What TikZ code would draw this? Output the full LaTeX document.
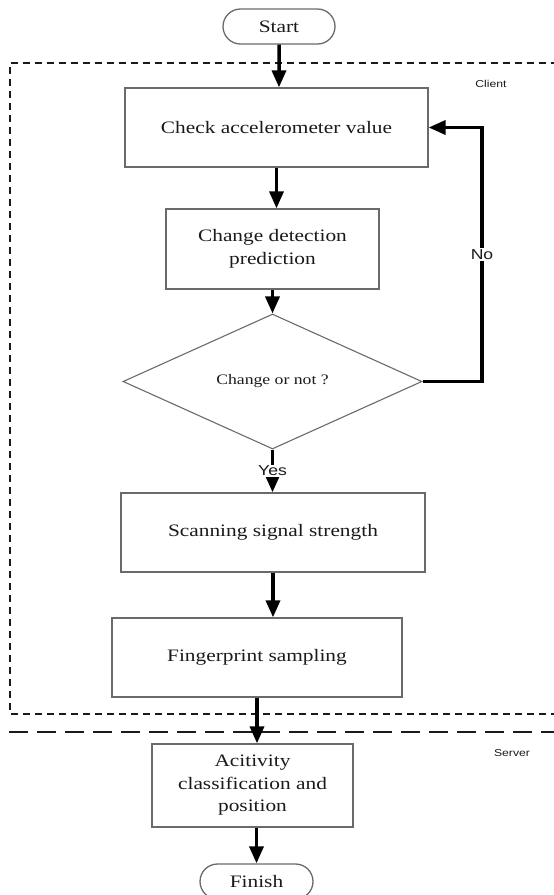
\documentclass[tikz,border=0pt]{standalone}
\usepackage{fontspec}
\setmainfont{Liberation Serif}[FakeStretch=1.22]
\newfontfamily\labelfont{Liberation Sans}[FakeStretch=1.22]
\usetikzlibrary{arrows.meta,shapes.geometric,shapes.misc}
\definecolor{boxgray}{HTML}{6A6A6A}
\definecolor{inkc}{HTML}{1A1A1A}
\tikzset{
  stepbox/.style={draw=boxgray, line width=1.3pt, rectangle, align=center, inner sep=0pt,
    text=inkc, font=\fontsize{17.5}{22.5}\selectfont},
  term/.style={draw=boxgray, line width=1.3pt, rounded rectangle, inner sep=0pt,
    text=inkc, font=\fontsize{17.5}{21}\selectfont},
  decision/.style={draw=boxgray, line width=1.1pt, diamond, inner sep=0pt, aspect=2.21,
    text=inkc, font=\fontsize{14.5}{18}\selectfont},
  arr/.style={draw=black, line width=3.5pt, -{Triangle[length=17pt,width=14pt]}},
  flowlabel/.style={fill=white, inner sep=1pt, text=inkc, font=\labelfont\fontsize{14.4}{16}\selectfont},
  zonelabel/.style={inner sep=0pt, text=inkc, font=\labelfont\fontsize{10}{12}\selectfont},
  clientdash/.style={draw=inkc, line width=1.1pt, dash pattern=on 7pt off 5pt},
  serverdash/.style={draw=inkc, line width=1.1pt, dash pattern=on 19pt off 9pt},
}
\begin{document}
\begin{tikzpicture}[x=1pt,y=-1pt]
\useasboundingbox (0,0) rectangle (554,895);
\clip (0,0) rectangle (554,895);
% zones
\draw[clientdash] (570,63) -- (10,63) -- (10,714) -- (570,714);
\draw[serverdash] (9,732) -- (560,732);
\node[zonelabel] (client) at (491,84) {Client};
\node[zonelabel] (server) at (512,753) {Server};
% nodes
\node[term, minimum width=112pt, minimum height=35pt] (start) at (279,26.5) {Start};
\node[stepbox, minimum width=303pt, minimum height=79pt] (check) at (276.5,127.5) {Check accelerometer value};
\node[stepbox, minimum width=213pt, minimum height=80pt] (cdp) at (272.5,249) {Change detection\\prediction};
\node[decision, minimum width=299pt, minimum height=135pt] (dia) at (272.5,381.5) {Change or not ?};
\node[stepbox, minimum width=304pt, minimum height=79pt] (scan) at (273,532.5) {Scanning signal strength};
\node[stepbox, minimum width=290pt, minimum height=79pt] (fp) at (257,657.5) {Fingerprint sampling};
\node[stepbox, minimum width=201pt, minimum height=83pt] (act) at (252.5,785.5) {Acitivity\\classification and\\position};
\node[term, minimum width=113pt, minimum height=35pt] (finish) at (256.5,881.5) {Finish};
% connectors
\draw[arr] (start) -- (start |- check.north);
\draw[arr] (check) -- (check |- cdp.north);
\draw[arr] (cdp) -- (dia.north);
\draw[arr] (dia.south) -- node[flowlabel, pos=0.5] (yes) {Yes} (dia.south |- scan.north);
\draw[arr] (scan) -- (scan |- fp.north);
\draw[arr] (fp) -- (fp |- act.north);
\draw[arr] (finish |- act.south) -- (finish.north);
\coordinate (loop) at (482,0);
\draw[arr] (dia.east) -- (dia.east -| loop) -- node[flowlabel, pos=0.5] (no) {No} (loop |- check.east) -- (check.east);
\end{tikzpicture}
\end{document}
